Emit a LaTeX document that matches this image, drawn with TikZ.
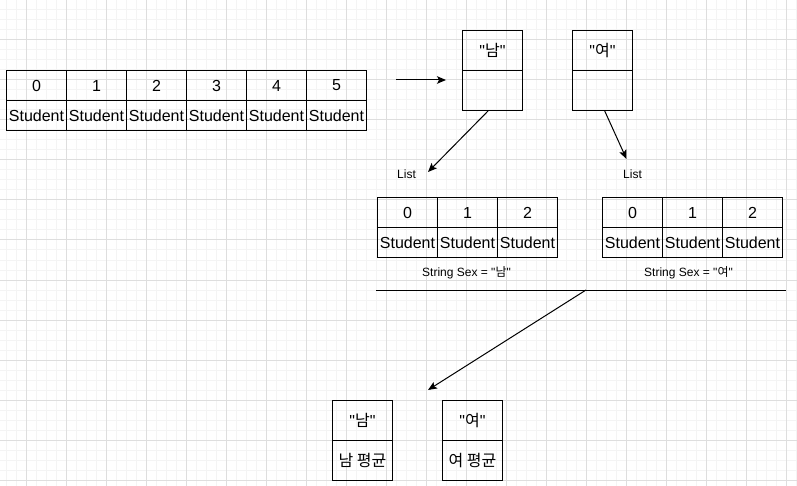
\documentclass[tikz,border=0pt]{standalone}
\usepackage{fontspec}
\newfontfamily\ar{Liberation Sans}
\newfontfamily\kr{Noto Sans CJK KR}
\usetikzlibrary{arrows.meta}
\definecolor{gridminor}{RGB}{244,244,244}
\definecolor{gridmajor}{RGB}{222,222,222}
\begin{document}
\begin{tikzpicture}[x=1pt,y=-1pt,
  cell/.style={draw,line width=1pt,minimum width=60pt,minimum height=30pt,inner sep=0pt,anchor=north west,font=\ar\fontsize{16}{19}\selectfont},
  tall/.style={cell,minimum height=40pt},
  lbl/.style={font=\ar\fontsize{12}{14}\selectfont,inner sep=0pt},
  arr/.style={line width=1pt,-{Stealth[length=9pt,width=7.5pt,inset=2pt]}},
  gminor/.style={gridminor,line width=1pt},
  gmajor/.style={gridmajor,line width=1pt}]
\useasboundingbox (0,0) rectangle (797,486);
\fill[white] (0,0) rectangle (797,486);
% grid
\foreach \x in {6,16,...,796} \draw[gminor] (\x,0) -- (\x,486);
\foreach \y in {10,20,...,480} \draw[gminor] (0,\y) -- (797,\y);
\foreach \x in {26,66,...,786} \draw[gmajor] (\x,0) -- (\x,486);
\foreach \y in {40,80,...,480} \draw[gmajor] (0,\y) -- (797,\y);

% main array
\foreach \i in {0,...,5} {
  \node[cell] (a\i) at (6+60*\i,70) {\i};
  \node[cell] (s\i) at (6+60*\i,100) {Student};
}

% top arrow
\coordinate (t1) at (396,80);
\coordinate (t2) at (446,80);
\draw[arr] (t1) -- (t2);

% key boxes
\node[tall] (kn) at (462,30) {"{\kr 남}"};
\node[tall] (kn2) at (462,70) {};
\node[tall] (ky) at (572,30) {"{\kr 여}"};
\node[tall] (ky2) at (572,70) {};

% List labels
\node[lbl] (l1) at (406.5,174.5) {List};
\node[lbl] (l2) at (632.5,174.5) {List};
\coordinate (n1s) at (488.5,110.5);
\coordinate (n1e) at (428,172);
\coordinate (y1s) at (604.5,110.5);
\coordinate (y1e) at (626.5,159);
\draw[arr] (n1s) -- (n1e);
\draw[arr] (y1s) -- (y1e);

% list arrays
\foreach \i in {0,1,2} {
  \node[cell] (b\i) at (377+60*\i,197) {\i};
  \node[cell] (bs\i) at (377+60*\i,227) {Student};
  \node[cell] (c\i) at (602+60*\i,197) {\i};
  \node[cell] (cs\i) at (602+60*\i,227) {Student};
}
\node[lbl] (sx1) at (466.5,272.5) {String Sex = "{\kr 남}"};
\node[lbl] (sx2) at (688.5,272.5) {String Sex = "{\kr 여}"};

% separator line
\coordinate (h1) at (376,290);
\coordinate (h2) at (786,290);
\coordinate (hm) at (586,290);
\draw[line width=1pt] (h1) -- (h2);
\coordinate (be) at (428,390);
\draw[arr] (hm) -- (be);

% result boxes
\node[tall] (rn) at (332,400) {"{\kr 남}"};
\node[tall] (rn2) at (332,440) {\kr 남 평균};
\node[tall] (ry) at (442,400) {"{\kr 여}"};
\node[tall] (ry2) at (442,440) {\kr 여 평균};
\end{tikzpicture}
\end{document}
